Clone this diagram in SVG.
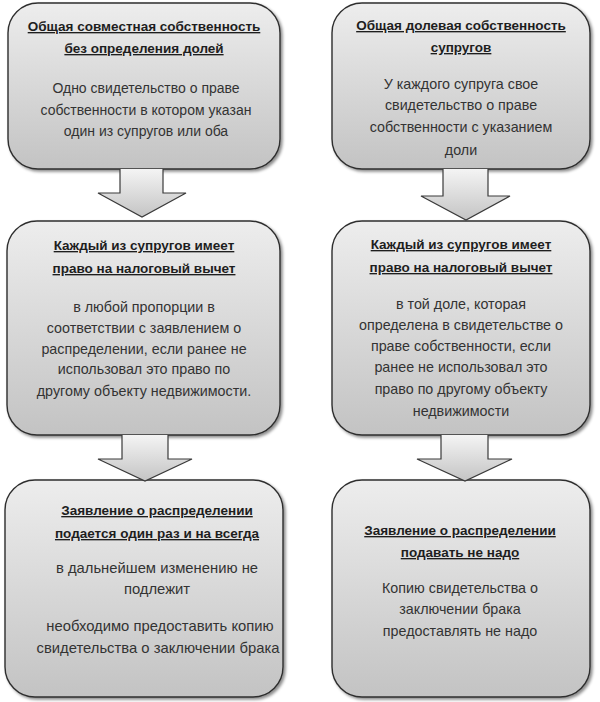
<svg xmlns="http://www.w3.org/2000/svg" width="600" height="702" viewBox="0 0 600 702">
<style>
.box{fill:url(#boxGrad);stroke:#2e2e2e;stroke-width:1.4;filter:url(#shadow)}
.arrow{fill:url(#arrGrad);stroke:#3a3a3a;stroke-width:1.2}
.t{font-family:"Liberation Sans",Arial,sans-serif;font-size:13.5px;font-weight:bold;fill:#1e1e1e;text-anchor:middle;text-decoration:underline}
.b{font-family:"Liberation Sans",Arial,sans-serif;font-size:14.3px;fill:#333;text-anchor:middle}
.b1{font-size:14px}
.b5{font-size:14.8px}
</style>
<defs>
<linearGradient id="boxGrad" x1="0" y1="0" x2="0" y2="1">
<stop offset="0" stop-color="#ededed"/>
<stop offset="1" stop-color="#c3c3c3"/>
</linearGradient>
<linearGradient id="arrGrad" x1="0" y1="0" x2="0" y2="1">
<stop offset="0" stop-color="#f4f4f4"/>
<stop offset="1" stop-color="#c4c4c4"/>
</linearGradient>
<filter id="shadow" x="-5%" y="-5%" width="112%" height="112%">
<feDropShadow dx="2" dy="2" stdDeviation="1.5" flood-color="#000" flood-opacity="0.45"/>
</filter>
<clipPath id="clip5"><rect x="6" y="481" width="274" height="215" rx="30"/></clipPath>
</defs>

<g id="node1">
<rect class="box" x="8" y="3" width="272" height="166" rx="30"/>
<text class="t" x="144" y="31">Общая совместная собственность</text>
<text class="t" x="144" y="53">без определения долей</text>
<text class="b b1" x="146" y="93">Одно свидетельство о праве</text>
<text class="b b1" x="146" y="115">собственности в котором указан</text>
<text class="b b1" x="146" y="136">один из супругов или оба</text>
</g>

<g id="node2">
<rect class="box" x="332" y="3" width="258" height="166" rx="30"/>
<text class="t" x="461" y="30">Общая долевая собственность</text>
<text class="t" x="461" y="52">супругов</text>
<text class="b" x="461" y="89">У каждого супруга свое</text>
<text class="b" x="461" y="110">свидетельство о праве</text>
<text class="b" x="461" y="132">собственности с указанием</text>
<text class="b" x="461" y="155">доли</text>
</g>

<g id="node3">
<rect class="box" x="7" y="221" width="273" height="214" rx="30"/>
<text class="t" x="144" y="250">Каждый из супругов имеет</text>
<text class="t" x="144" y="273">право на налоговый вычет</text>
<text class="b" x="144" y="312">в любой пропорции в</text>
<text class="b" x="144" y="333">соответствии с заявлением о</text>
<text class="b" x="144" y="354">распределении, если ранее не</text>
<text class="b" x="144" y="374">использовал это право по</text>
<text class="b" x="144" y="396">другому объекту недвижимости.</text>
</g>

<g id="node4">
<rect class="box" x="332" y="221" width="258" height="214" rx="30"/>
<text class="t" x="461" y="249">Каждый из супругов имеет</text>
<text class="t" x="461" y="272">право на налоговый вычет</text>
<text class="b" x="461" y="309">в той доле, которая</text>
<text class="b" x="461" y="330">определена в свидетельстве  о</text>
<text class="b" x="461" y="351">праве собственности, если</text>
<text class="b" x="461" y="372">ранее не использовал это</text>
<text class="b" x="461" y="394">право по другому объекту</text>
<text class="b" x="461" y="416">недвижимости</text>
</g>

<g id="node5">
<rect class="box" x="5" y="480" width="278" height="217" rx="30"/>
<text class="t" x="157" y="515">Заявление о распределении</text>
<text class="t" x="157" y="538">подается один раз и на всегда</text>
<text class="b b5" x="157" y="573">в дальнейшем изменению не</text>
<text class="b b5" x="157" y="594">подлежит</text>
<g clip-path="url(#clip5)">
<text class="b b5" x="160" y="631">необходимо предоставить копию</text>
<text class="b b5" x="158" y="653">свидетельства о заключении брака</text>
</g>
</g>

<g id="node6">
<rect class="box" x="332" y="480" width="258" height="217" rx="30"/>
<text class="t" x="460" y="535">Заявление о распределении</text>
<text class="t" x="460" y="557">подавать не надо</text>
<text class="b" x="460" y="593">Копию свидетельства о</text>
<text class="b" x="460" y="614">заключении брака</text>
<text class="b" x="460" y="636">предоставлять не надо</text>
</g>

<g id="connectors">
<path class="arrow" d="M120,169 V193 H98 L142,217 L186,193 H163 V169"/>
<path class="arrow" d="M443,169 V196 H421 L466,220 L510,196 H488 V169"/>
<path class="arrow" d="M122,435 V459 H98 L145,481 L192,459 H168 V435"/>
<path class="arrow" d="M441,435 V459 H417 L465,481 L512,459 H488 V435"/>
</g>
</svg>
